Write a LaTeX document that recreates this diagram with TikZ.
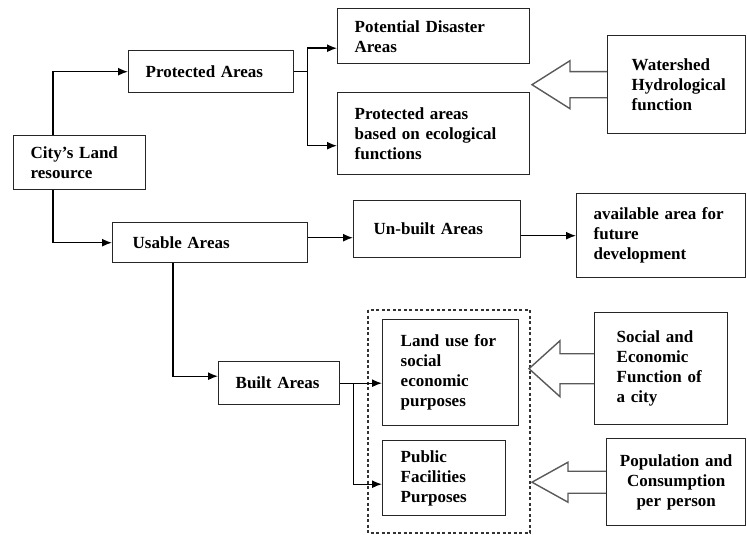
\documentclass[tikz,border=0pt]{standalone}
\usepackage{fontspec}
\setmainfont{Liberation Serif}
\usepackage{tikz}
\usetikzlibrary{arrows.meta,calc}

\begin{document}
\begin{tikzpicture}[x=1pt,y=-1pt,
    blk/.style={draw=black!85,line width=1.4pt,align=left,anchor=north west,
      inner xsep=17pt,inner ysep=0pt,font=\fontsize{17}{20}\selectfont\bfseries},
    lnk/.style={line width=1.4pt,-{Latex[length=10pt,width=8pt]}},
    fat/.style={draw=black!65,line width=1.4pt,line join=miter},
    grp/.style={draw=black!80,line width=1.2pt,dash pattern=on 3pt off 2.5pt}]
 \useasboundingbox (0,0) rectangle (747,535);
 % blocks
 \node[blk,text width=98pt,minimum height=54pt] (city) at (13,135) {City's Land\\resource};
 \node[blk,text width=131pt,minimum height=42pt] (prot) at (128,50) {Protected Areas};
 \node[blk,text width=158pt,minimum height=55pt] (pda) at (337,8) {Potential Disaster\\Areas};
 \node[blk,text width=158pt,minimum height=82pt] (pea) at (337,92) {Protected areas\\based on ecological\\functions};
 \node[blk,inner xsep=24pt,text width=90pt,minimum height=98pt] (ws) at (607,35) {Watershed\\Hydrological\\function};
 \node[blk,inner xsep=20pt,text width=155pt,minimum height=40pt] (use) at (112,222) {Usable Areas};
 \node[blk,inner xsep=20pt,text width=127pt,minimum height=57pt] (unb) at (353,200) {Un-built Areas};
 \node[blk,text width=135pt,minimum height=84pt] (avail) at (576,193) {available area for\\future\\development};
 \node[blk,text width=87pt,minimum height=43pt] (built) at (218,361) {Built Areas};
 \node[blk,inner xsep=18pt,text width=100pt,minimum height=106pt] (lu) at (382,319) {Land use for\\social\\economic\\purposes};
 \node[blk,inner xsep=18pt,text width=87pt,minimum height=75pt] (pf) at (382,440) {Public\\Facilities\\Purposes};
 \node[blk,inner xsep=22pt,text width=89pt,minimum height=112pt] (soc) at (594,312) {Social and\\Economic\\Function of\\a city};
 \node[blk,align=center,inner xsep=10pt,text width=119pt,minimum height=87pt] (pop) at (606,438) {Population and\\Consumption\\per person};
 \draw[grp] (368,310) rectangle (530,533);

 % connectors
 \coordinate (pj) at ([xshift=13pt]prot.east);
 \coordinate (bj) at ([xshift=13pt]built.east);
 \draw[lnk] ([xshift=40pt]city.north west) |- (prot.west);
 \draw[lnk] ([xshift=40pt]city.south west) |- (use.west);
 \draw[line width=1.4pt] (prot.east) -- (pj);
 \draw[lnk] (pj) |- ([yshift=-12pt]pda.west);
 \draw[lnk] (pj) |- ([yshift=-12pt]pea.west);
 \draw[lnk] ([yshift=5pt]use.east) -- ([yshift=5pt]use.east -| unb.west);
 \draw[lnk] (avail.west -| unb.east) -- (avail.west);
 \draw[lnk] ([xshift=61pt]use.south west) |- ([yshift=7pt]built.west);
 \draw[lnk] (built.east) -- (built.east -| lu.west);
 \draw[lnk] (bj) |- ([yshift=-6pt]pf.west);

 % hollow arrows
 \draw[fat] ($(ws.west)+(0,-13)$) -- ++(-37,0) -- ++(0,-11) -- ++(-38,24)
   -- ++(38,24) -- ++(0,-11) -- ($(ws.west)+(0,13)$);
 \draw[fat] ($(soc.west)+(0,-15)$) -- ++(-34,0) -- ++(0,-13) -- ++(-31,28)
   -- ++(31,28) -- ++(0,-13) -- ($(soc.west)+(0,15)$);
 \draw[fat] ($(pop.west)+(0,-11)$) -- ++(-38,0) -- ++(0,-9) -- ++(-36,20)
   -- ++(36,20) -- ++(0,-9) -- ($(pop.west)+(0,11)$);
\end{tikzpicture}
\end{document}
